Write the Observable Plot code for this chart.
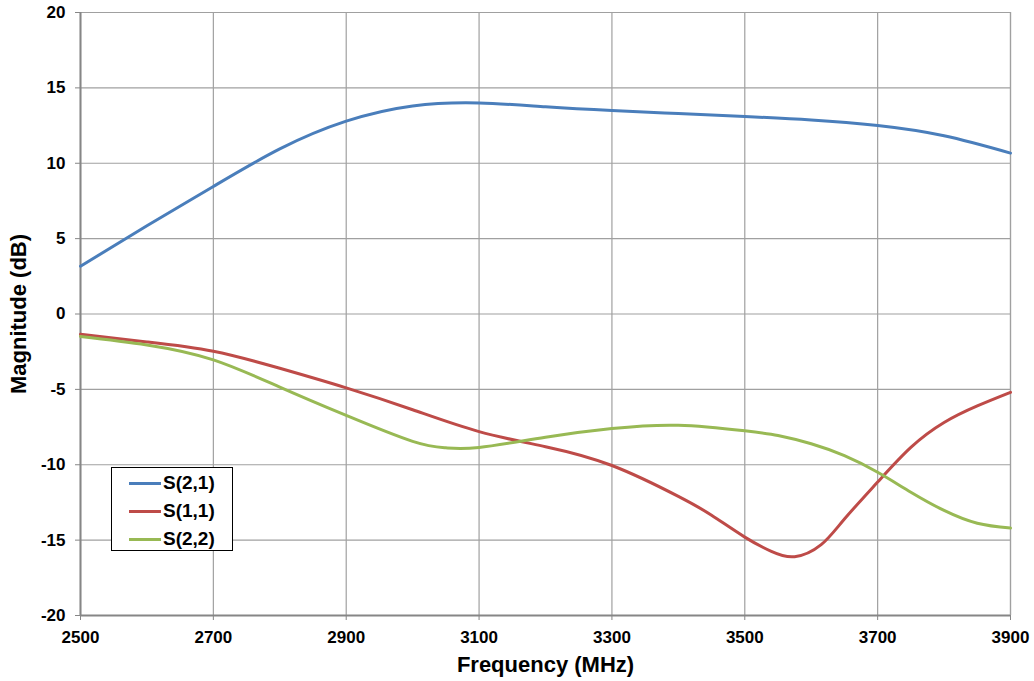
<!DOCTYPE html>
<html>
<head>
<meta charset="utf-8">
<script src="https://cdn.jsdelivr.net/npm/d3@7"></script>
<script src="https://cdn.jsdelivr.net/npm/@observablehq/plot@0.6"></script>
<style>
  html, body { margin: 0; padding: 0; background: #fff; }
  #wrap { position: relative; width: 1034px; height: 681px; }
  #wrap svg g[aria-label="y-axis label"] text,
  #wrap svg g[aria-label="x-axis label"] text { font-size: 22px; }
  #legend {
    position: absolute; left: 111px; top: 467px; width: 122px; height: 84px;
    border: 1px solid #000; background: #fff; box-sizing: border-box;
    font: bold 19px "Liberation Sans", Arial, sans-serif; color: #000;
    padding-top: 1px;
  }
  #legend .row { display: flex; align-items: center; height: 28px; }
  #legend .sw { width: 32px; height: 3px; margin-left: 17px; margin-right: 2px; }
</style>
</head>
<body>
<div id="wrap"></div>
<script>
const freqS21 = [2500, 2600, 2700, 2800, 2900, 3000, 3100, 3200, 3300, 3400, 3500, 3600, 3700, 3800, 3900];
const magS21  = [3.17, 5.85, 8.46, 10.95, 12.79, 13.8, 14.0, 13.75, 13.5, 13.3, 13.1, 12.87, 12.5, 11.82, 10.67];

const freqS11 = [2500, 2600, 2700, 2800, 2900, 3000, 3100, 3200, 3300, 3400, 3450, 3500, 3540, 3575, 3615, 3650, 3700, 3750, 3800, 3850, 3900];
const magS11  = [-1.35, -1.85, -2.47, -3.6, -4.9, -6.35, -7.8, -8.8, -10.05, -12.1, -13.35, -14.8, -15.75, -16.1, -15.3, -13.6, -11.15, -8.85, -7.2, -6.1, -5.2];

const freqS22 = [2500, 2600, 2700, 2800, 2900, 3000, 3050, 3100, 3200, 3300, 3400, 3500, 3550, 3600, 3650, 3700, 3750, 3800, 3850, 3900];
const magS22  = [-1.49, -2.05, -3.04, -4.85, -6.73, -8.45, -8.88, -8.85, -8.17, -7.6, -7.38, -7.75, -8.06, -8.61, -9.4, -10.5, -11.82, -13.03, -13.88, -14.2];

const seriesNames = ["S(2,1)", "S(1,1)", "S(2,2)"];
const seriesColors = ["#4a7ebb", "#be4b48", "#98b954"];
const xTicks = [2500, 2700, 2900, 3100, 3300, 3500, 3700, 3900];
const yTicks = [-20, -15, -10, -5, 0, 5, 10, 15, 20];

const rows = [];
[[freqS21, magS21], [freqS11, magS11], [freqS22, magS22]].forEach(([fs, ms], i) => {
  fs.forEach((f, j) => rows.push({series: seriesNames[i], f, m: ms[j]}));
});

const fmt = d => String(d);

const chart = Plot.plot({
  width: 1034,
  height: 681,
  marginLeft: 80,
  marginRight: 24,
  marginTop: 12,
  marginBottom: 66,
  style: {fontFamily: "'Liberation Sans', Arial, sans-serif", fontSize: "17px", fontWeight: "bold", color: "#000", background: "#fff"},
  x: {domain: [2500, 3900]},
  y: {domain: [-20, 20]},
  color: {domain: seriesNames, range: seriesColors},
  marks: [
    Plot.gridX(xTicks, {stroke: "#a0a0a0", strokeOpacity: 1, strokeWidth: 1.2}),
    Plot.gridY(yTicks, {stroke: "#a0a0a0", strokeOpacity: 1, strokeWidth: 1.2}),
    Plot.ruleX([3900], {stroke: "#a0a0a0", strokeWidth: 1.2}),
    Plot.ruleY([20], {stroke: "#a0a0a0", strokeWidth: 1.2}),
    Plot.ruleX([2500], {stroke: "#868686", strokeWidth: 2}),
    Plot.ruleY([-20], {stroke: "#868686", strokeWidth: 2}),
    Plot.axisY(yTicks, {tickSize: 5, tickPadding: 10, stroke: "#868686", fill: "#000", tickFormat: fmt,
      label: "Magnitude (dB)", labelAnchor: "center", labelArrow: "none", labelOffset: 70}),
    Plot.axisX(xTicks, {tickSize: 5, tickPadding: 10, stroke: "#868686", fill: "#000", tickFormat: fmt,
      label: "Frequency (MHz)", labelAnchor: "center", labelArrow: "none", labelOffset: 56}),
    Plot.line(rows, {x: "f", y: "m", z: "series", stroke: "series", strokeWidth: 3, curve: "natural"})
  ]
});

const wrap = document.getElementById("wrap");
wrap.appendChild(chart);

const legend = document.createElement("div");
legend.id = "legend";
seriesNames.forEach((name, i) => {
  const row = document.createElement("div");
  row.className = "row";
  const sw = document.createElement("span");
  sw.className = "sw";
  sw.style.background = seriesColors[i];
  const t = document.createElement("span");
  t.textContent = name;
  row.appendChild(sw);
  row.appendChild(t);
  legend.appendChild(row);
});
wrap.appendChild(legend);
</script>
</body>
</html>
